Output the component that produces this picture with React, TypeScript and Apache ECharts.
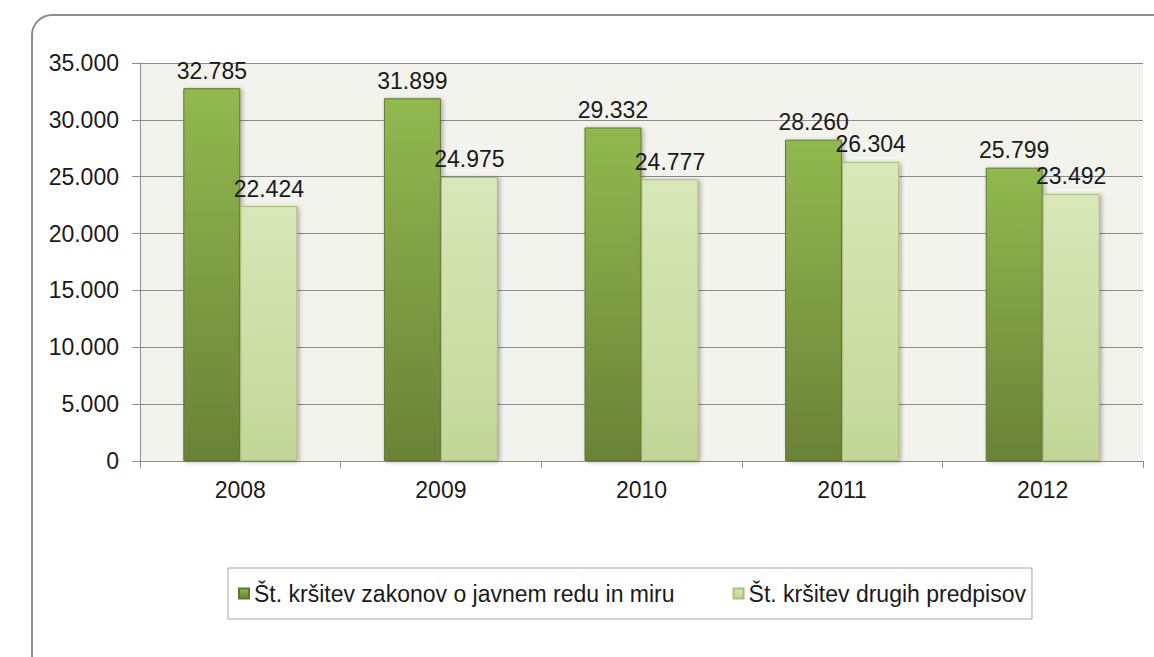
import React, { useEffect, useRef } from "react";
import * as echarts from "echarts";

const categories = ["2008", "2009", "2010", "2011", "2012"];
const seriesNames = [
  "Št. kršitev zakonov o javnem redu in miru",
  "Št. kršitev drugih predpisov",
];
const zakonValues = [32785, 31899, 29332, 28260, 25799];
const drugiValues = [22424, 24975, 24777, 26304, 23492];

const fmt = (v: number) =>
  String(Math.round(v)).replace(/\B(?=(\d{3})+(?!\d))/g, ".");

const FONT = "'Liberation Sans', Arial, sans-serif";

export default function App() {
  const ref = useRef<HTMLDivElement>(null);
  useEffect(() => {
    if (!ref.current) return;
    const chart = echarts.init(ref.current, undefined, { renderer: "svg" });
    const darkFill = new echarts.graphic.LinearGradient(0, 0, 0, 1, [
      { offset: 0, color: "#91b950" },
      { offset: 1, color: "#6a8236" },
    ]);
    const lightFill = new echarts.graphic.LinearGradient(0, 0, 0, 1, [
      { offset: 0, color: "#d8e7b8" },
      { offset: 1, color: "#c3d698" },
    ]);
    chart.setOption({
      animation: false,
      backgroundColor: "#ffffff",
      textStyle: { fontFamily: FONT },
      graphic: [
        {
          type: "rect",
          shape: { x: 32, y: 15, width: 1160, height: 660, r: 20 },
          style: { fill: "none", stroke: "#8c8c8c", lineWidth: 2 },
          silent: true,
        },
      ],
      grid: {
        left: 140,
        top: 63,
        right: 11,
        bottom: 196,
        show: true,
        backgroundColor: "#f3f3ee",
        borderWidth: 0,
      },
      legend: {
        data: seriesNames,
        left: 228,
        top: 568,
        padding: [14, 6, 14, 10],
        borderWidth: 1,
        borderColor: "#a6a6a6",
        itemWidth: 10,
        itemHeight: 10,
        itemGap: 58,
        icon: "rect",
        textStyle: { fontSize: 23, color: "#1a1a1a", fontFamily: FONT },
      },
      xAxis: {
        type: "category",
        data: categories,
        axisLine: { lineStyle: { color: "#8c8c8c", width: 1 } },
        axisTick: { show: true, length: 7, lineStyle: { color: "#8c8c8c" } },
        axisLabel: { fontSize: 23, color: "#1a1a1a", margin: 17, fontFamily: FONT },
      },
      yAxis: {
        type: "value",
        min: 0,
        max: 35000,
        interval: 5000,
        axisLine: { show: true, lineStyle: { color: "#8c8c8c", width: 1 } },
        axisTick: { show: true, length: 8, lineStyle: { color: "#8c8c8c" } },
        splitLine: { lineStyle: { color: "#8c8c8c", width: 1 } },
        axisLabel: {
          fontSize: 23,
          color: "#1a1a1a",
          margin: 21,
          fontFamily: FONT,
          formatter: (v: number) => fmt(v),
        },
      },
      series: [
        {
          name: seriesNames[0],
          type: "bar",
          data: zakonValues,
          barWidth: 57,
          barGap: "0%",
          itemStyle: {
            color: darkFill,
            borderColor: "#5f7830",
            borderWidth: 1,
            shadowColor: "rgba(0,0,0,0.3)",
            shadowBlur: 4,
            shadowOffsetX: 2,
            shadowOffsetY: 1,
          },
          label: {
            show: true,
            position: "top",
            distance: 6,
            fontSize: 23,
            color: "#1a1a1a",
            fontFamily: FONT,
            formatter: (p: any) => fmt(p.value),
          },
        },
        {
          name: seriesNames[1],
          type: "bar",
          data: drugiValues,
          barWidth: 57,
          barGap: "0%",
          itemStyle: {
            color: lightFill,
            borderColor: "#a9bf7a",
            borderWidth: 1,
            shadowColor: "rgba(0,0,0,0.3)",
            shadowBlur: 4,
            shadowOffsetX: 2,
            shadowOffsetY: 1,
          },
          label: {
            show: true,
            position: "top",
            distance: 6,
            fontSize: 23,
            color: "#1a1a1a",
            fontFamily: FONT,
            formatter: (p: any) => fmt(p.value),
          },
        },
      ],
    });
    return () => chart.dispose();
  }, []);
  return (
    <div
      ref={ref}
      style={{ position: "fixed", left: 0, top: 0, width: 1154, height: 657 }}
    />
  );
}
